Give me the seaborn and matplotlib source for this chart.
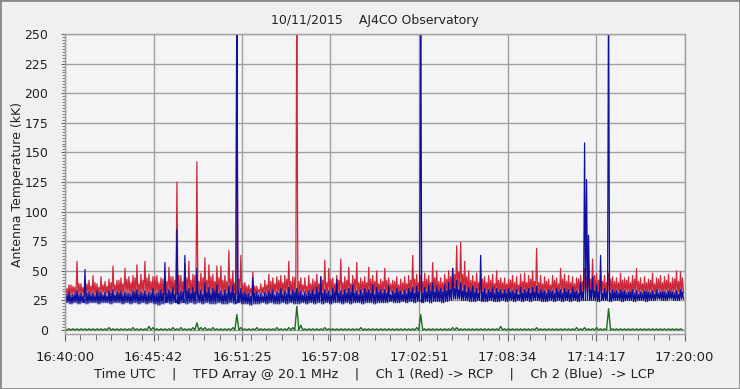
import numpy as np
import pandas as pd
import matplotlib
matplotlib.use("Agg")
import matplotlib.pyplot as plt
import seaborn as sns
from matplotlib.patches import Rectangle

# tick labels of the time axis (40 minutes, 7 intervals)
tick_labels = ["16:40:00", "16:45:42", "16:51:25", "16:57:08",
               "17:02:51", "17:08:34", "17:14:17", "17:20:00"]
span_s = 2400.0

# one value per ~15 s bin:
# *_top = highest spike in the bin, *_mid = usual top of the noise band, *_low = band floor
red_top = [36, 38, 37, 58, 39,  40, 42, 46, 39, 45,  41, 43, 54, 42, 44,  52, 45, 46, 55, 47,
           58, 47, 45, 46, 44,  47, 53, 45, 125, 46, 56, 58, 47, 142, 48, 61, 55, 47, 54, 54,
           46, 67, 50, 300, 63, 40, 38, 49, 37, 39,  42, 47, 44, 45, 46,  46, 58, 45, 300, 44,
           44, 46, 43, 47, 45,  59, 52, 44, 46, 60,  45, 53, 46, 57, 44,  45, 53, 46, 50, 43,
           52, 44, 42, 45, 43,  45, 46, 63, 47, 46,  48, 46, 57, 50, 44,  47, 50, 52, 71, 74,
           58, 50, 46, 48, 47,  45, 46, 47, 50, 44,  44, 43, 46, 45, 47,  48, 46, 50, 69, 46,
           45, 43, 46, 44, 52,  47, 46, 45, 44, 46,  52, 55, 60, 48, 47,  46, 48, 45, 44, 48,
           44, 45, 46, 52, 44,  45, 43, 48, 44, 46,  45, 47, 44, 50, 49]
red_mid = [35, 38, 36, 39, 36,  39, 37, 40, 36, 38,  37, 40, 38, 42, 39,  43, 40, 44, 39, 42,
           44, 41, 45, 40, 43,  41, 45, 42, 46, 41,  44, 42, 46, 41, 44,  42, 45, 41, 44, 42,
           41, 43, 40, 43, 39,  37, 35, 37, 34, 36,  38, 41, 39, 42, 40,  43, 41, 44, 41, 38,
           37, 39, 41, 39, 42,  40, 43, 39, 42, 40,  42, 39, 43, 40, 41,  40, 43, 41, 39, 41,
           42, 39, 41, 38, 40,  39, 42, 43, 40, 41,  43, 40, 44, 41, 40,  43, 45, 47, 49, 47,
           45, 42, 41, 40, 43,  40, 42, 39, 42, 40,  39, 42, 40, 38, 41,  40, 43, 41, 40, 39,
           41, 38, 42, 39, 43,  41, 40, 39, 43, 41,  45, 43, 46, 42, 41,  40, 43, 41, 40, 42,
           42, 40, 43, 41, 39,  40, 42, 39, 43, 40,  42, 40, 43, 41, 44]
red_low = [30, 29, 31, 30, 30,  31, 30, 29, 30, 31,  30, 30, 31, 29, 30,  31, 30, 30, 29, 31,
           30, 31, 30, 30, 29,  30, 31, 30, 30, 31,  30, 29, 30, 31, 30,  30, 31, 30, 29, 30,
           31, 30, 30, 31, 30,  29, 30, 30, 31, 30,  30, 29, 31, 30, 30,  31, 30, 30, 30, 31,
           30, 30, 29, 31, 30,  30, 31, 30, 30, 29,  30, 31, 30, 30, 31,  30, 29, 30, 31, 30,
           30, 31, 30, 29, 30,  31, 30, 30, 31, 30,  31, 32, 31, 30, 31,  32, 31, 32, 33, 32,
           31, 30, 31, 31, 30,  31, 30, 31, 30, 31,  30, 31, 30, 31, 30,  31, 30, 31, 31, 30,
           31, 30, 31, 30, 31,  30, 31, 30, 31, 31,  32, 31, 31, 30, 31,  30, 31, 30, 31, 30,
           31, 30, 31, 30, 31,  30, 31, 30, 31, 30,  31, 30, 31, 30, 31]
blue_top = [31, 32, 30, 33, 31,  51, 32, 31, 33, 32,  32, 33, 34, 32, 33,  32, 31, 33, 34, 32,
            33, 32, 35, 31, 34,  57, 34, 36, 85, 33,  63, 35, 36, 52, 34,  40, 36, 35, 38, 33,
            34, 37, 38, 300, 35, 32, 31, 44, 32, 31,  32, 33, 34, 32, 35,  33, 36, 34, 35, 33,
            32, 33, 34, 36, 45,  34, 33, 35, 43, 33,  34, 35, 38, 33, 34,  35, 34, 38, 36, 34,
            34, 37, 33, 35, 33,  34, 35, 36, 37, 300, 36, 38, 40, 37, 35,  38, 40, 52, 42, 40,
            38, 36, 37, 35, 63,  35, 34, 36, 35, 34,  34, 35, 33, 34, 36,  34, 35, 36, 37, 34,
            33, 34, 33, 35, 34,  35, 34, 36, 33, 40,  158, 80, 45, 38, 63, 35, 300, 34, 33, 34,
            33, 32, 34, 33, 32,  33, 32, 33, 34, 32,  32, 33, 32, 33, 34]
blue_mid = [30, 29, 31, 30, 29,  31, 30, 29, 31, 30,  29, 31, 30, 31, 30,  31, 30, 32, 30, 31,
            30, 31, 30, 32, 31,  31, 32, 30, 31, 32,  33, 31, 32, 31, 30,  32, 31, 33, 31, 30,
            31, 32, 31, 32, 31,  30, 29, 31, 30, 29,  30, 31, 30, 31, 30,  31, 30, 32, 31, 30,
            30, 31, 30, 32, 31,  31, 30, 32, 31, 30,  31, 32, 31, 30, 31,  32, 31, 30, 32, 31,
            31, 30, 31, 32, 30,  31, 32, 31, 32, 31,  32, 33, 32, 33, 32,  33, 34, 35, 34, 33,
            32, 33, 32, 31, 32,  31, 32, 31, 32, 31,  31, 32, 31, 30, 31,  32, 31, 32, 31, 32,
            31, 32, 31, 32, 31,  32, 31, 32, 31, 32,  127, 34, 33, 32, 31, 32, 31, 32, 31, 32,
            31, 32, 31, 30, 31,  32, 31, 30, 31, 32,  31, 32, 31, 30, 32]
blue_low = [23, 22, 23, 22, 23,  22, 23, 23, 22, 23,  23, 22, 23, 23, 22,  23, 22, 23, 22, 23,
            22, 23, 22, 21, 22,  23, 22, 23, 22, 23,  22, 23, 22, 23, 22,  23, 22, 22, 23, 22,
            22, 23, 22, 23, 22,  22, 21, 22, 22, 23,  22, 23, 22, 22, 23,  22, 23, 22, 22, 23,
            22, 23, 22, 23, 22,  23, 22, 23, 23, 22,  23, 22, 23, 23, 22,  23, 23, 22, 23, 23,
            23, 24, 23, 23, 24,  23, 24, 23, 24, 23,  24, 23, 24, 24, 23,  24, 25, 26, 26, 25,
            25, 24, 24, 25, 24,  24, 25, 24, 24, 25,  24, 25, 24, 25, 24,  25, 24, 25, 25, 24,
            24, 25, 24, 25, 24,  25, 24, 25, 24, 25,  25, 25, 25, 24, 25,  25, 24, 25, 25, 24,
            25, 25, 24, 25, 25,  24, 25, 25, 26, 25,  25, 26, 25, 25, 26]
green_top = [1, 1, 1, 1, 1,  1, 1, 1, 1, 1,  1, 2, 1, 1, 1,  1, 1, 2, 1, 1,
             1, 3, 2, 1, 1,  1, 1, 2, 1, 2,  1, 1, 2, 6, 2,  2, 1, 2, 1, 1,
             1, 1, 2, 13, 2, 1, 1, 1, 2, 1,  1, 1, 1, 2, 1,  1, 2, 2, 20, 4,
             1, 1, 1, 1, 1,  2, 1, 1, 1, 1,  1, 1, 1, 1, 2,  1, 1, 1, 1, 1,
             1, 1, 1, 1, 1,  1, 1, 1, 2, 13, 1, 1, 1, 1, 1,  1, 1, 2, 2, 1,
             1, 1, 1, 1, 1,  1, 1, 1, 1, 3,  1, 1, 1, 1, 1,  1, 1, 1, 2, 1,
             1, 1, 1, 1, 1,  1, 1, 1, 2, 1,  2, 1, 1, 2, 1,  1, 18, 1, 1, 1,
             1, 1, 1, 1, 1,  1, 1, 1, 1, 1,  1, 1, 1, 1, 1]
green_floor = 0.0

n = len(red_top)
dt = span_s / n
t0 = np.arange(n) * dt


def weave(*cols):
    return np.ravel(np.column_stack([np.asarray(c, float) for c in cols]))


# four samples per bin: spike, floor, band top, floor
df = pd.DataFrame({
    "t": weave(t0, t0 + dt / 4, t0 + dt / 2, t0 + 3 * dt / 4),
    "red": weave(red_top, red_low, red_mid, red_low),
    "blue": weave(blue_top, blue_low, blue_mid, blue_low),
})
dg = pd.DataFrame({
    "t": weave(t0, t0 + dt / 2),
    "green": weave(green_top, np.full(n, green_floor)),
})

sns.set_style("ticks")
plt.rcParams["font.family"] = ["DejaVu Sans"]
plt.rcParams["font.size"] = 9

fig = plt.figure(figsize=(7.4, 3.89), dpi=100, facecolor="#f0f0f0")
ax = fig.add_axes([65 / 740, 1 - 334 / 389, (684.5 - 65) / 740, 300 / 389])
ax.set_facecolor("#f4f4f6")

sns.lineplot(data=df, x="t", y="red", color="#cc2a3c", lw=0.9, estimator=None, ax=ax)
sns.lineplot(data=df, x="t", y="blue", color="#10109a", lw=0.9, estimator=None, ax=ax)
sns.lineplot(data=dg, x="t", y="green", color="#1b6e1b", lw=1.0, estimator=None, ax=ax)

ax.set_xlim(0, span_s)
ax.set_ylim(-3.4, 250)
ax.set_xticks(np.linspace(0, span_s, len(tick_labels)))
ax.set_xticklabels(tick_labels)
ax.set_xticks(np.arange(0, span_s + 1, 60), minor=True)
ax.set_yticks(np.arange(0, 251, 25))
ax.set_yticks(np.arange(0, 251, 2.5), minor=True)
ax.grid(True, which="major", color="#a0a0a0", lw=1.0)
ax.set_axisbelow(True)
for s in ax.spines.values():
    s.set_color("#a0a0a0")
    s.set_linewidth(1.0)
ax.tick_params(axis="both", which="both", colors="#606070", labelcolor="#222222")
ax.tick_params(axis="x", which="major", length=5, pad=7, labelsize=9.5)
ax.tick_params(axis="x", which="minor", length=4)
ax.tick_params(axis="y", which="major", length=3, pad=9, labelsize=9)
ax.tick_params(axis="y", which="minor", length=2)

ax.set_title("10/11/2015    AJ4CO Observatory", fontsize=9, color="#222222", pad=7)
ax.set_xlabel("Time UTC    |    TFD Array @ 20.1 MHz    |    Ch 1 (Red) -> RCP    |    Ch 2 (Blue)  -> LCP",
              fontsize=9.3, color="#222222", labelpad=3)
ax.set_ylabel("Antenna Temperature (kK)", fontsize=9, color="#222222")
ax.yaxis.set_label_coords(-0.066, 0.5)

fig.patches.append(Rectangle((0, 0), 1, 1, transform=fig.transFigure, fill=False,
                             edgecolor="#8a8a8a", lw=2))
fig.savefig("out.png", dpi=100, facecolor=fig.get_facecolor())
